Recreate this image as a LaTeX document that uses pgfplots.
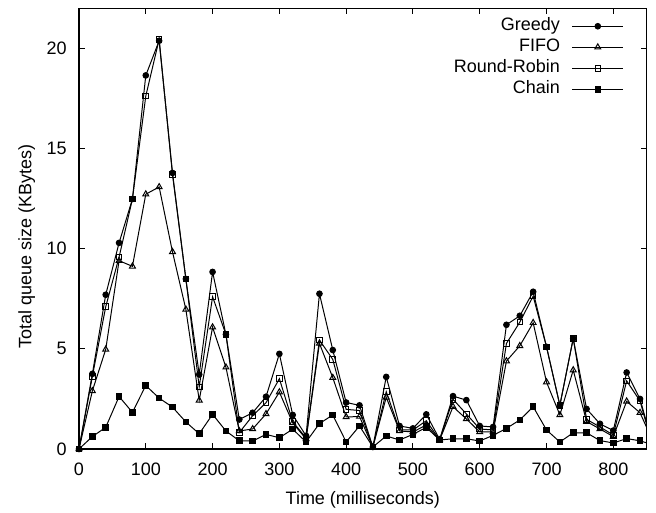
\documentclass[border=0pt]{standalone}
\usepackage{fontspec}
\setmainfont{Liberation Sans}
\usepackage{pgfplots}
\usepackage{pgfplotstable}
\pgfplotsset{compat=1.18}

% t  greedy  fifo  rr  chain  (KBytes)
\pgfplotstableread{
t    g      f      r      c
0    0.00   0.00   0.00   0.00
20   3.75   2.90   3.62   0.62
40   7.70   4.97   7.10   1.08
60   10.29  9.40   9.58   2.62
80   12.48  9.12   12.48  1.83
100  18.65  12.72  17.62  3.17
120  20.38  13.08  20.45  2.54
140  13.78  9.84   13.70  2.09
160  8.49   6.97   8.49   1.35
180  3.72   2.43   3.10   0.76
200  8.84   6.08   7.60   1.73
220  5.72   4.08   5.72   0.90
240  1.47   0.90   0.82   0.41
260  1.81   1.00   1.66   0.40
280  2.61   1.75   2.31   0.73
300  4.75   2.84   3.51   0.56
320  1.70   1.30   1.36   0.99
340  0.66   0.50   0.55   0.35
360  7.75   5.27   5.44   1.27
380  4.94   3.56   4.47   1.70
400  2.32   1.60   1.98   0.35
420  2.18   1.62   1.92   1.15
440  0.10   0.10   0.10   0.10
460  3.60   2.58   2.86   0.65
480  1.15   0.90   0.95   0.45
500  1.03   0.85   0.95   0.73
520  1.73   1.20   1.41   1.08
540  0.48   0.45   0.45   0.45
560  2.64   2.11   2.48   0.51
580  2.44   1.50   1.75   0.51
600  1.15   0.85   1.00   0.40
620  1.10   0.85   0.95   0.68
640  6.20   4.39   5.27   1.03
660  6.65   5.15   6.33   1.45
680  7.85   6.30   7.63   2.11
700  5.10   3.34   5.10   0.95
720  2.18   1.70   2.18   0.35
740  5.52   3.94   5.52   0.81
760  2.00   1.37   1.48   0.81
780  1.26   1.00   1.10   0.42
800  0.92   0.62   0.70   0.30
820  3.82   2.38   3.40   0.52
840  2.50   1.81   2.40   0.41
860  0.10   0.33   0.00   0.20
}\qdata

\begin{document}
\begin{tikzpicture}[font=\fontsize{9bp}{11bp}\selectfont]
\begin{axis}[
    scale only axis,
    width=283.85bp, height=220.35bp,
    xmin=0, xmax=850, ymin=0, ymax=22,
    xtick={0,100,...,800},
    ytick={0,5,10,15,20},
    tick align=inside,
    major tick length=3bp,
    tick style={black, line width=0.5pt},
    axis line style={line width=0.8pt},
    /pgf/number format/assume math mode=true,
    xticklabel style={inner sep=0pt, yshift=-7bp},
    yticklabel style={inner sep=0pt, xshift=-6bp},
    xlabel={Time (milliseconds)},
    ylabel={Total queue size (KBytes)},
    every axis x label/.style={at={(axis description cs:0.5,0)}, anchor=north, inner sep=0pt, yshift=-21bp},
    every axis y label/.style={at={(axis description cs:-0.0766,0.46)}, rotate=90, anchor=south, inner sep=0pt},
    legend plot pos=right,
    legend cell align=right,
    legend image code/.code={
        \draw[mark repeat=2,mark phase=2,#1]
        plot coordinates {(0bp,0bp) (12.65bp,0bp) (25.3bp,0bp)};
    },
    legend style={draw=none, fill=none, at={(0.96,0.984)}, anchor=north east,
        inner sep=0pt, column sep=5bp, row sep=0pt,
        nodes={text height=6.5bp, text depth=2bp, inner sep=1bp}},
    every axis plot/.append style={black, line width=0.5pt},
]
\addplot[mark=*, mark size=1.4bp, mark options={solid, fill=black}] table[x=t, y=g] {\qdata};
\addlegendentry{Greedy}
\addplot[mark=triangle, mark size=1.7bp, mark options={solid}] table[x=t, y=f] {\qdata};
\addlegendentry{FIFO}
\addplot[mark=square, mark size=1.4bp, mark options={solid}] table[x=t, y=r] {\qdata};
\addlegendentry{Round-Robin}
\addplot[mark=square*, mark size=1.4bp, mark options={solid, fill=black}] table[x=t, y=c] {\qdata};
\addlegendentry{Chain}
\end{axis}
\pgfresetboundingbox
\path (current axis.south west) ++(-39.5bp,-32bp) coordinate (bl);
\path (current axis.north east) ++(4.65bp,4.15bp) coordinate (tr);
\path (bl) rectangle (tr);
\end{tikzpicture}
\end{document}
